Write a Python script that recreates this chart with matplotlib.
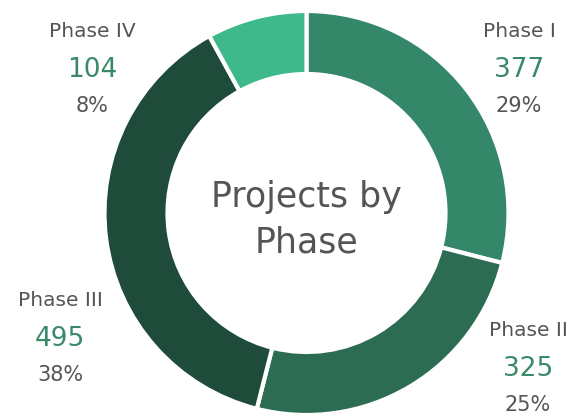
import matplotlib
matplotlib.use("Agg")
import matplotlib.pyplot as plt

# data
phases = ["Phase I", "Phase II", "Phase III", "Phase IV"]
counts = [377, 325, 495, 104]
percent_labels = ["29%", "25%", "38%", "8%"]
colors = ["#35876a", "#2c6c53", "#1f4b3b", "#3db98b"]

# label anchors in pixel coords: x centre, baseline of the name (from top)
label_pos = [(519, 37), (528, 336), (60, 306), (92, 37)]

W, H = 576, 415
fig = plt.figure(figsize=(W / 100, H / 100), dpi=100)
ax = fig.add_axes([0, 0, 1, 1])

cx, cy, r = 306.5, H - 213, 202
ax.pie(counts, colors=colors, startangle=90, counterclock=False,
       center=(cx, cy), radius=r, frame=True,
       wedgeprops=dict(width=63, edgecolor="white", linewidth=3))
ax.set_xlim(0, W)
ax.set_ylim(0, H)
ax.set_aspect("equal")
ax.axis("off")

font = "DejaVu Sans"
grey = "#555555"
ax.text(cx, H - 207, "Projects by", ha="center", va="baseline",
        fontsize=25, color=grey, family=font)
ax.text(cx, H - 252, "Phase", ha="center", va="baseline",
        fontsize=25, color=grey, family=font)

for name, n, pct, (x, y) in zip(phases, counts, percent_labels, label_pos):
    ax.text(x, H - y, name, ha="center", va="baseline", fontsize=14.5,
            color=grey, family=font)
    ax.text(x, H - y - 40, str(n), ha="center", va="baseline", fontsize=19,
            color="#3a8a6a", family=font)
    ax.text(x, H - y - 75, pct, ha="center", va="baseline", fontsize=15,
            color=grey, family=font)

fig.savefig("out.png", dpi=100)
